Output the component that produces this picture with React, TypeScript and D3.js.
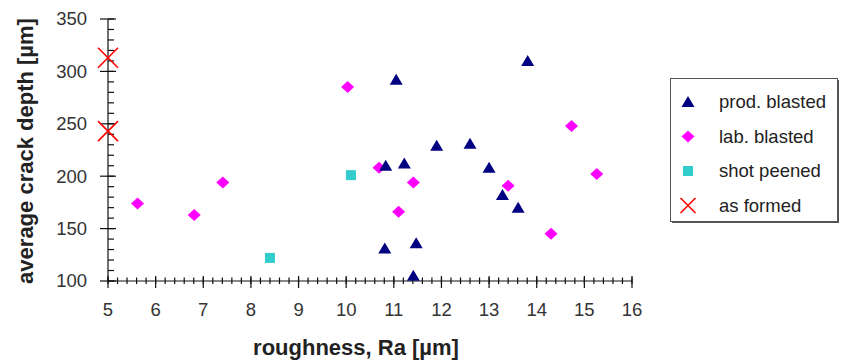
import React from "react";
import * as d3 from "d3";

const prodX = [11.05, 10.83, 11.22, 10.81, 11.47, 11.41, 13.81, 11.9, 12.6, 13.0, 13.28, 13.61];
const prodY = [292, 210, 212, 131, 136, 105, 310, 229, 231, 208, 182, 170];
const labX = [5.62, 6.81, 7.41, 10.03, 10.69, 11.1, 11.41, 14.73, 15.26, 13.4, 14.3];
const labY = [174, 163, 194, 285, 208, 166, 194, 248, 202, 191, 145];
const shotX = [8.4, 10.1];
const shotY = [122, 201];
const formedX = [5, 5];
const formedY = [313, 243];
const xTicks = [5, 6, 7, 8, 9, 10, 11, 12, 13, 14, 15, 16];
const yTicks = [100, 150, 200, 250, 300, 350];
const legendLabels = ["prod. blasted", "lab. blasted", "shot peened", "as formed"];

const W = 841, H = 360;
const FONT = "'Liberation Sans', Arial, Helvetica, sans-serif";

const Triangle = ({ x, y }: { x: number; y: number }) => (
  <path d={`M${x},${y - 6} L${x + 6.5},${y + 5} L${x - 6.5},${y + 5} Z`} fill="#000080" />
);
const Diamond = ({ x, y }: { x: number; y: number }) => (
  <path d={`M${x},${y - 6} L${x + 6.5},${y} L${x},${y + 6} L${x - 6.5},${y} Z`} fill="#ff00ff" />
);
const Square = ({ x, y }: { x: number; y: number }) => (
  <rect x={x - 5} y={y - 5} width={10} height={10} fill="#33cccc" />
);
const Cross = ({ x, y, s = 10 }: { x: number; y: number; s?: number }) => (
  <g stroke="#ff0000" strokeWidth={1.6}>
    <line x1={x - s} y1={y - s} x2={x + s} y2={y + s} />
    <line x1={x - s} y1={y + s} x2={x + s} y2={y - s} />
  </g>
);

export default function App() {
  const x = d3.scaleLinear().domain([5, 16]).range([108, 632]);
  const y = d3.scaleLinear().domain([100, 350]).range([281, 19]);
  const xMinor = d3.range(5, 16.001, 0.2).map((v) => +v.toFixed(1));
  const yMinor = d3.range(100, 350.001, 10);

  return (
    <svg width={W} height={H} style={{ position: "absolute", left: 0, top: 0 }} fontFamily={FONT}>
      <rect width={W} height={H} fill="#fff" />
      {/* axes */}
      <g stroke="#111" strokeWidth={1.2}>
        <line x1={x(5)} x2={x(5)} y1={y(100)} y2={y(350)} />
        <line x1={x(5)} x2={x(16)} y1={y(100)} y2={y(100)} />
        {yMinor.map((v) => (
          <line key={"ym" + v} x1={x(5)} x2={x(5) + 6} y1={y(v)} y2={y(v)} />
        ))}
        {yTicks.map((v) => (
          <line key={"yM" + v} x1={x(5) - 8} x2={x(5) + 8} y1={y(v)} y2={y(v)} />
        ))}
        {xMinor.map((v) => (
          <line key={"xm" + v} x1={x(v)} x2={x(v)} y1={y(100) - 3.5} y2={y(100) + 3} />
        ))}
        {xTicks.map((v) => (
          <line key={"xM" + v} x1={x(v)} x2={x(v)} y1={y(100) - 5} y2={y(100) + 7} />
        ))}
      </g>
      {yTicks.map((v) => (
        <text key={"yl" + v} x={87} y={y(v)} dy="0.35em" textAnchor="end" fontSize={18.5} fill="#333">
          {v}
        </text>
      ))}
      {xTicks.map((v) => (
        <text key={"xl" + v} x={x(v)} y={315.5} textAnchor="middle" fontSize={18.5} fill="#333">
          {v}
        </text>
      ))}
      <text x={356} y={355} textAnchor="middle" fontSize={22} fontWeight="bold" fill="#222">
        roughness, Ra [µm]
      </text>
      <text
        transform={`translate(33,151) rotate(-90)`}
        textAnchor="middle"
        fontSize={22}
        fontWeight="bold"
        fill="#222"
      >
        average crack depth [µm]
      </text>
      {/* data */}
      {labX.map((v, i) => (
        <Diamond key={"l" + i} x={x(v)} y={y(labY[i])} />
      ))}
      {shotX.map((v, i) => (
        <Square key={"s" + i} x={x(v)} y={y(shotY[i])} />
      ))}
      {prodX.map((v, i) => (
        <Triangle key={"p" + i} x={x(v)} y={y(prodY[i])} />
      ))}
      {formedX.map((v, i) => (
        <Cross key={"f" + i} x={x(v)} y={y(formedY[i])} />
      ))}
      {/* legend */}
      <rect x={672} y={80} width={167} height={143} fill="#555" />
      <rect x={670.5} y={78.5} width={167} height={143} fill="#fff" stroke="#555" strokeWidth={1} />
      {legendLabels.map((lab, i) => {
        const ly = 102 + i * 34.5;
        const mx = 688;
        return (
          <g key={lab}>
            {i === 0 && <Triangle x={mx} y={ly} />}
            {i === 1 && <Diamond x={mx} y={ly} />}
            {i === 2 && <Square x={mx} y={ly} />}
            {i === 3 && <Cross x={mx} y={ly} s={7.5} />}
            <text x={719} y={ly} dy="0.35em" fontSize={18.5} fill="#222">
              {lab}
            </text>
          </g>
        );
      })}
    </svg>
  );
}
